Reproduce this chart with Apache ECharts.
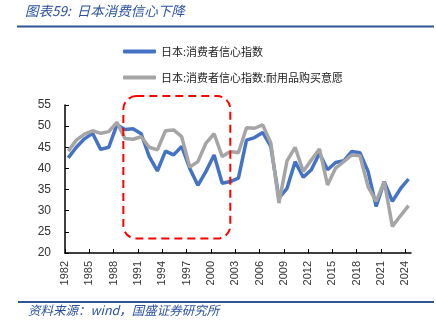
<!DOCTYPE html>
<html><head><meta charset="utf-8">
<script src="https://cdn.jsdelivr.net/npm/echarts@6/dist/echarts.min.js"></script>
<style>html,body{margin:0;padding:0;background:#fff}#c{width:436px;height:330px}</style>
</head><body><div id="c"></div>
<script>
const years = [1982,1983,1984,1985,1986,1987,1988,1989,1990,1991,1992,1993,1994,1995,1996,1997,1998,1999,2000,2001,2002,2003,2004,2005,2006,2007,2008,2009,2010,2011,2012,2013,2014,2015,2016,2017,2018,2019,2020,2021,2022,2023,2024];
const confidence = [42.5,45,47,48.3,44.5,45,50.3,49.2,49.4,48.2,42.8,39.4,44.1,43.2,45.2,40,36,39.3,43.2,36.5,36.9,37.7,46.7,47.3,48.5,45.2,33,35.3,41.6,37.9,39.7,43.6,39.7,41.4,41.8,44,43.7,39.3,31,36.9,32.2,35.2,37.5];
const durables = [44.1,46.7,48.1,48.9,48.3,48.7,50.9,47.1,46.9,47.5,45,44.4,48.9,49.1,47.5,40.3,41.6,46,48.2,42.8,44,43.7,49.6,49.5,50.3,46,31.8,41.8,45,39.3,42,44.6,36.1,40.1,41.6,43.2,43,35.7,32.2,36.9,26.3,28.8,31.2];
const xTickLabels = [1982,1985,1988,1991,1994,1997,2000,2003,2006,2009,2012,2015,2018,2021,2024];
const yTicks = [20,25,30,35,40,45,50,55];
const seriesNames = ['日本:消费者信心指数','日本:消费者信心指数:耐用品购买意愿'];
const titleText = '图表59:  日本消费信心下降';
const sourceText = '资料来源：wind，国盛证券研究所';
const annoYears = [1989.2, 2002.4];
const annoValues = [23.4, 57.1];

const base = years[0];
const offset = 0.4;
const toX = y => y - base + offset;
const font = "'Liberation Sans','Noto Sans CJK SC',sans-serif";
const cjk = "'Noto Sans CJK SC',sans-serif";
const blueTitle = '#2A52A0';

const chart = echarts.init(document.getElementById('c'));
chart.setOption({
  animation: false,
  grid: {left: 65, right: 25, top: 105, bottom: 77},
  legend: {
    orient: 'vertical', left: 118, top: 41, itemWidth: 33, itemHeight: 4, itemGap: 15,
    icon: 'roundRect',
    textStyle: {fontSize: 11, color: '#222', fontFamily: cjk},
    data: seriesNames
  },
  xAxis: {
    type: 'value', min: 0, max: 42.7,
    axisLine: {show: true, lineStyle: {color: '#000', width: 1.5}},
    axisTick: {show: true, inside: true, length: 4, lineStyle: {color: '#000'}, customValues: xTickLabels.map(v => v - base)},
    axisLabel: {rotate: 90, fontSize: 11, color: '#333', fontFamily: font, margin: 8,
      customValues: xTickLabels.map(v => v - base), formatter: v => String(Math.round(v + base))},
    splitLine: {show: false}
  },
  yAxis: {
    type: 'value', min: yTicks[0], max: yTicks[yTicks.length-1], interval: 5,
    axisLine: {show: true, lineStyle: {color: '#000', width: 1.5}},
    axisTick: {show: true, inside: true, length: 4, lineStyle: {color: '#000'}},
    axisLabel: {fontSize: 12, color: '#333', fontFamily: font, margin: 14},
    splitLine: {show: false}
  },
  series: [
    {name: seriesNames[0], type: 'line', symbol: 'none', color: '#4472C4',
      lineStyle: {width: 3.5, color: '#4472C4'},
      data: years.map((y, i) => [toX(y), confidence[i]])},
    {name: seriesNames[1], type: 'line', symbol: 'none', color: '#A5A5A5',
      lineStyle: {width: 3.5, color: '#A5A5A5'},
      data: years.map((y, i) => [toX(y), durables[i]])}
  ]
});

const p1 = chart.convertToPixel({gridIndex: 0}, [annoYears[0] - base, annoValues[1]]);
const p2 = chart.convertToPixel({gridIndex: 0}, [annoYears[1] - base, annoValues[0]]);
chart.setOption({
  graphic: [
    {type: 'text', left: 25, top: 4, style: {text: titleText, fontSize: 13.5, fontStyle: 'italic', fill: blueTitle, fontFamily: cjk}},
    {type: 'line', shape: {x1: 17, y1: 26.5, x2: 434, y2: 26.5}, style: {stroke: '#2F5597', lineWidth: 2}},
    {type: 'line', shape: {x1: 18, y1: 302, x2: 434, y2: 302}, style: {stroke: '#2F5597', lineWidth: 2}},
    {type: 'text', left: 28, top: 304, style: {text: sourceText, fontSize: 12.5, fontStyle: 'italic', fill: blueTitle, fontFamily: cjk}},
    {type: 'rect', shape: {x: p1[0], y: p1[1], width: p2[0] - p1[0], height: p2[1] - p1[1], r: 13},
      style: {fill: 'none', stroke: '#FF0000', lineWidth: 2, lineDash: [8, 5]}, z: 100}
  ]
});
</script></body></html>
